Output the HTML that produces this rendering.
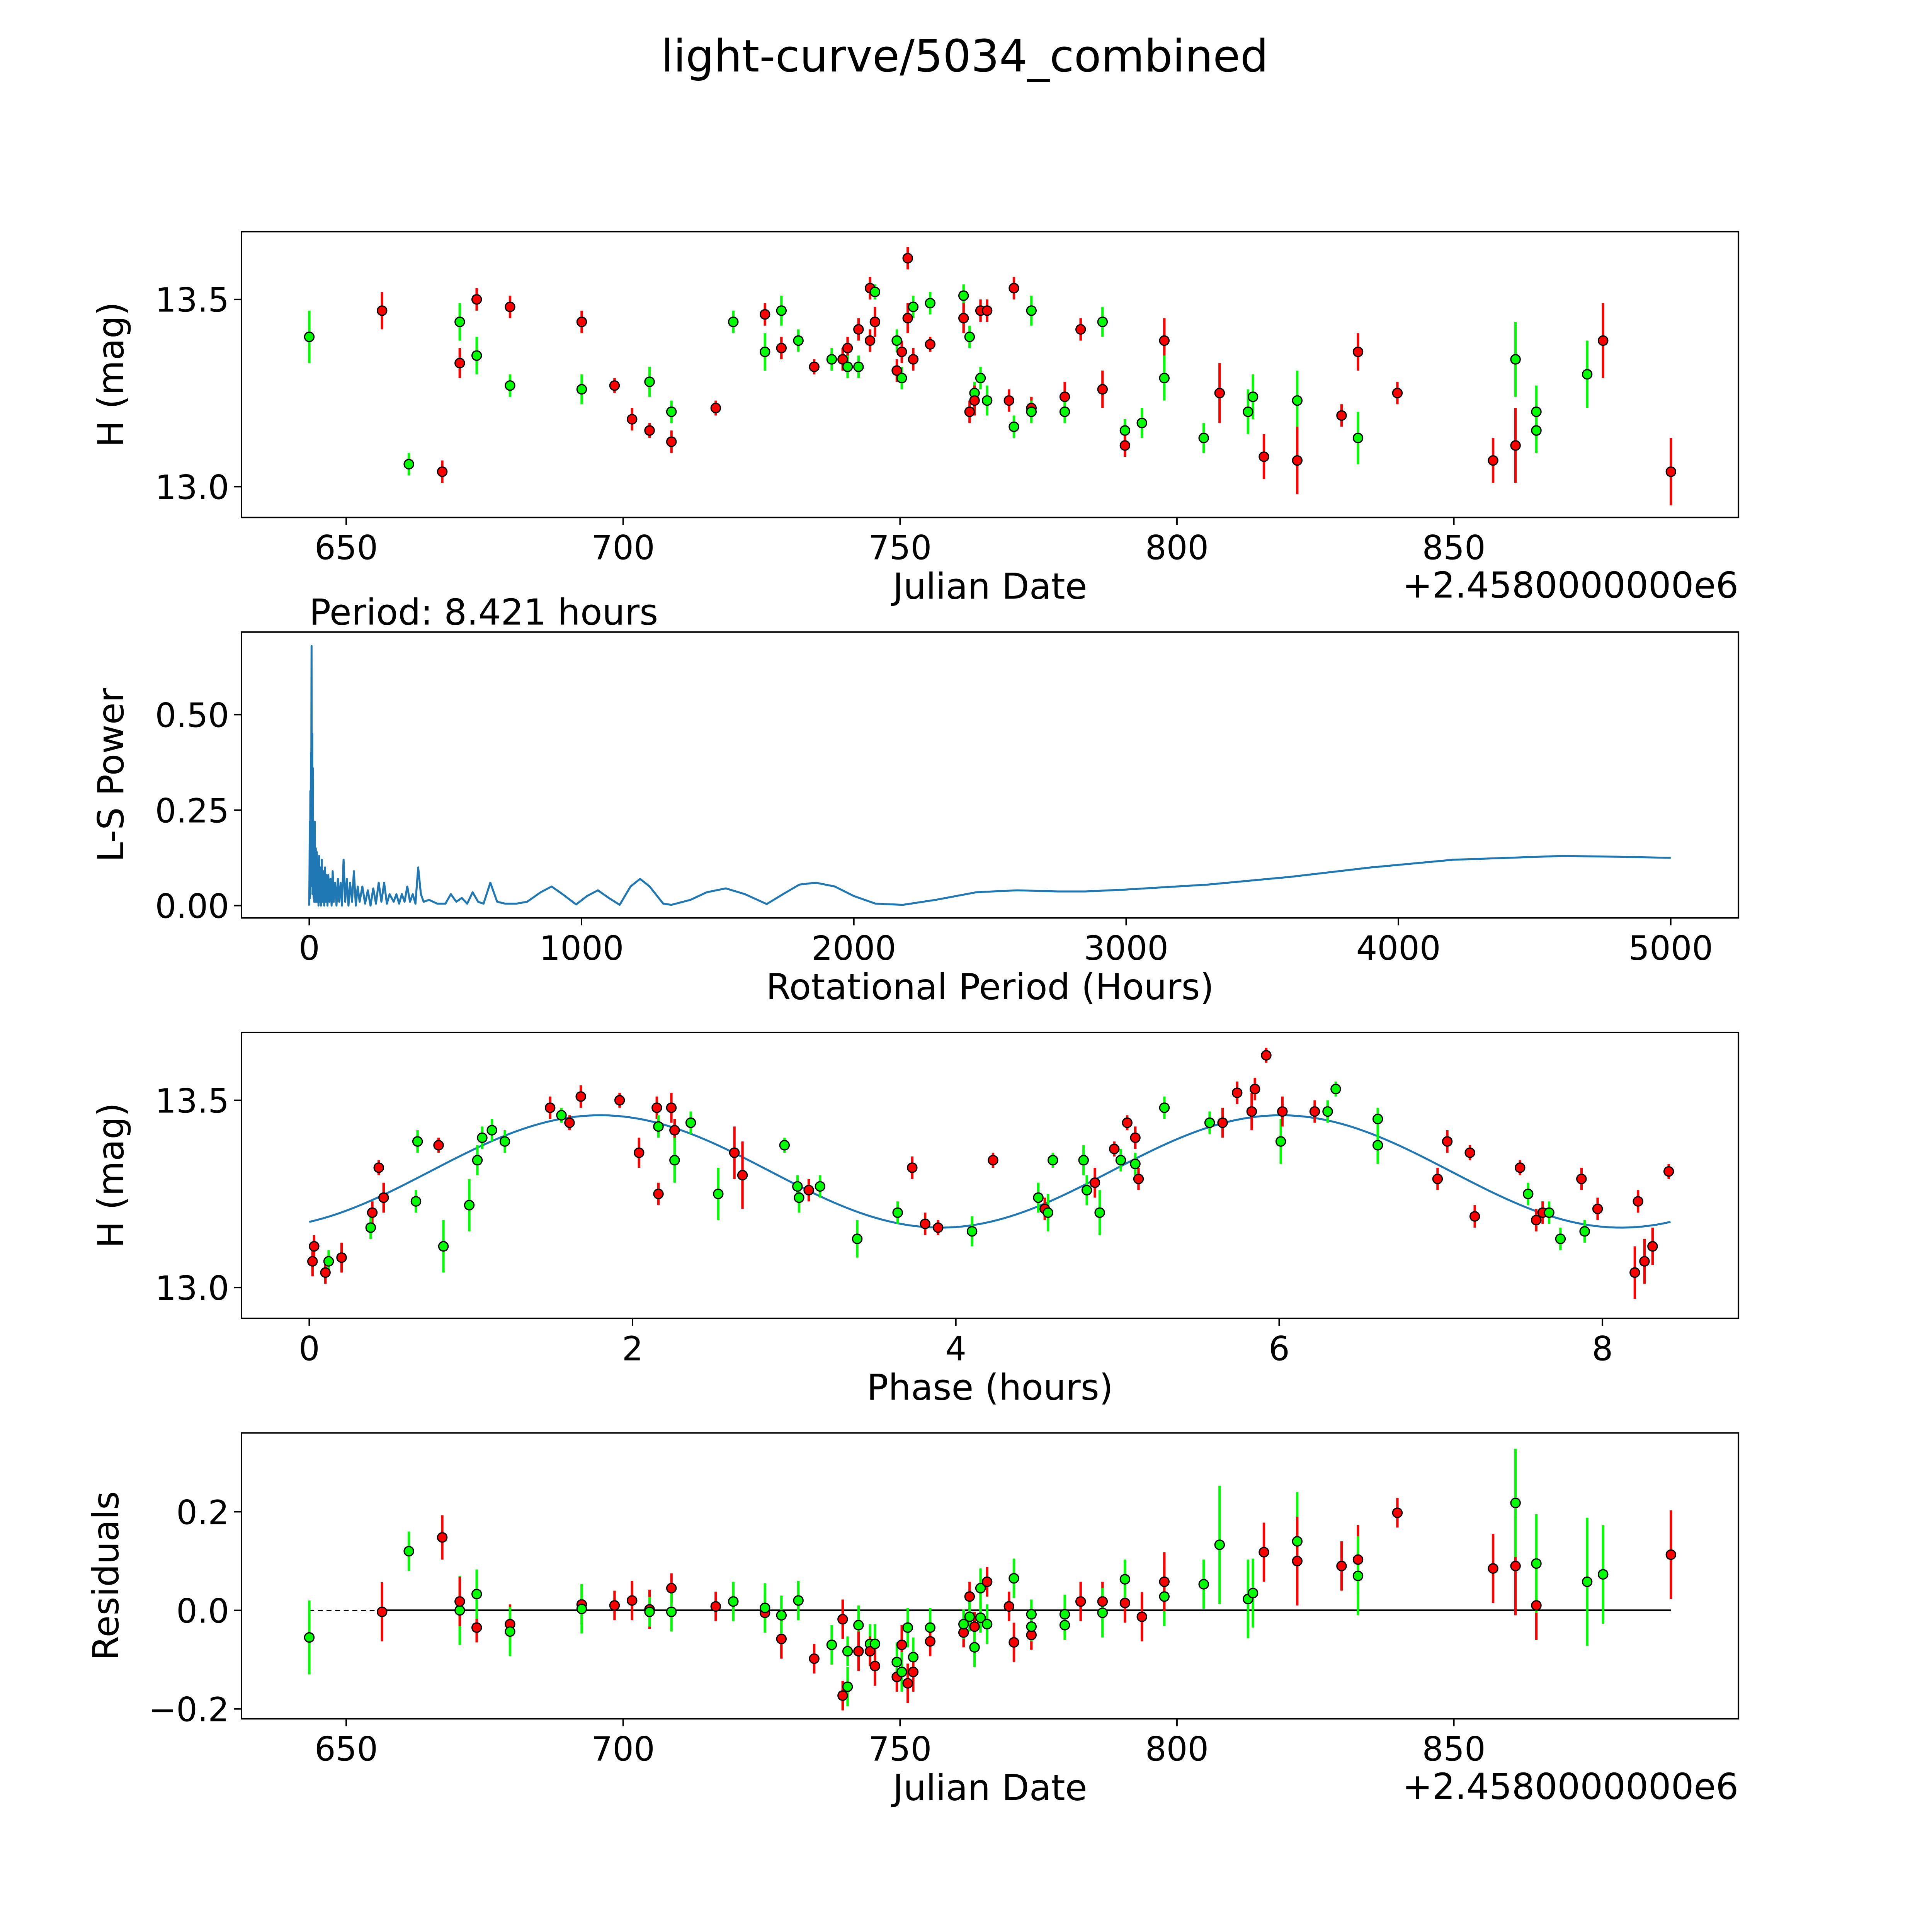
<!DOCTYPE html>
<html><head><meta charset="utf-8"><title>light-curve/5034_combined</title>
<style>html,body{margin:0;padding:0;background:#fff;width:5400px;height:5400px;overflow:hidden}svg{display:block;position:absolute;left:0;top:0;width:5400px;height:5400px}text{font-family:"DejaVu Sans","Liberation Sans",sans-serif;fill:#000}</style>
</head><body>
<svg id="fig" xmlns="http://www.w3.org/2000/svg" width="5400" height="5400" viewBox="0 0 1693.5 1693.5" preserveAspectRatio="xMinYMin meet">
<rect width="1693.5" height="1693.5" fill="#fff"/>
<text x="783" y="58" font-size="36" text-anchor="middle">light-curve/5034_combined</text>
</svg>
<script>
// ---- Panel 1 data: raw light curve ----
const p1Dates=[643.33,656.47,661.31,667.34,670.50,670.50,673.56,673.56,679.58,679.58,692.52,692.52,698.45,701.61,704.77,704.77,708.72,708.72,716.72,719.89,725.61,725.61,728.58,728.58,731.64,734.50,737.66,739.64,740.53,740.53,742.50,742.50,744.58,744.58,745.47,745.47,749.42,749.42,750.31,750.31,751.39,751.39,752.38,752.38,755.44,755.44,761.47,761.47,762.56,762.56,763.45,763.45,764.53,764.53,765.72,765.72,769.67,770.56,770.56,773.72,773.72,773.72,779.74,779.74,782.61,786.56,786.56,790.61,790.61,793.67,797.72,797.72,804.83,807.70,812.83,813.72,815.70,821.72,821.72,829.72,832.69,832.69,839.80,857.08,861.13,861.13,864.89,864.89,874.07,876.94,889.19];
const p1Mags=[13.40,13.47,13.06,13.04,13.44,13.33,13.50,13.35,13.48,13.27,13.44,13.26,13.27,13.18,13.28,13.15,13.20,13.12,13.21,13.44,13.46,13.36,13.37,13.47,13.39,13.32,13.34,13.34,13.37,13.32,13.42,13.32,13.39,13.53,13.52,13.44,13.31,13.39,13.36,13.29,13.61,13.45,13.48,13.34,13.49,13.38,13.51,13.45,13.40,13.20,13.25,13.23,13.29,13.47,13.47,13.23,13.23,13.53,13.16,13.47,13.21,13.20,13.24,13.20,13.42,13.26,13.44,13.15,13.11,13.17,13.39,13.29,13.13,13.25,13.20,13.24,13.08,13.23,13.07,13.19,13.36,13.13,13.25,13.07,13.34,13.11,13.15,13.20,13.30,13.39,13.04];
const p1Errs=[0.07,0.05,0.03,0.03,0.05,0.04,0.03,0.05,0.03,0.03,0.03,0.04,0.02,0.03,0.04,0.02,0.03,0.03,0.02,0.03,0.03,0.05,0.03,0.04,0.03,0.02,0.03,0.03,0.03,0.03,0.03,0.03,0.03,0.03,0.02,0.04,0.03,0.03,0.03,0.03,0.03,0.04,0.03,0.03,0.03,0.02,0.03,0.04,0.03,0.03,0.03,0.04,0.03,0.03,0.03,0.04,0.03,0.03,0.03,0.04,0.03,0.03,0.04,0.03,0.03,0.05,0.04,0.03,0.03,0.04,0.06,0.06,0.04,0.08,0.06,0.06,0.06,0.08,0.09,0.03,0.05,0.07,0.03,0.06,0.10,0.10,0.06,0.07,0.09,0.10,0.09];
const p1Colors="grgrgrrgrgrgrrgrgrrgrgrggrgrrgrgrrgrrgrgrrgrgrgrgrgrgrrgrrggrgrgrrggrgrggrggrgrrrgrrgrgggrr".split("");
// ---- Panel 2 data: periodogram ----
const lsPeriods=[0,1,2,3,4,5,6,7,8,8.4,9,10,11,12,13,14,15,16,17,18,20,22,24,26,28,30,32,34,36,38,40,43,46,49,52,55,58,61,64,67,70,74,78,82,86,90,95,100,105,110,115,120,126,132,138,144,150,157,164,171,178,185,195,205,215,225,235,245,255,265,275,285,295,310,320,330,340,350,360,370,380,390,400,410,420,440,470,500,520,540,560,580,600,620,640,665,690,720,760,800,850,890,930,980,1020,1060,1100,1140,1180,1215,1250,1300,1330,1400,1460,1530,1600,1680,1740,1800,1860,1930,2000,2080,2180,2300,2450,2600,2750,2850,3000,3300,3600,3900,4200,4600,4800,5000];
const lsPowers=[0,0.10,0.22,0.02,0.30,0.05,0.40,0.10,0.55,0.68,0.35,0.12,0.45,0.03,0.36,0.05,0.22,0.02,0.20,0.01,0.22,0.01,0.15,0.01,0.14,0.01,0.12,0.0,0.13,0.01,0.10,0.0,0.12,0.01,0.09,0.0,0.10,0.01,0.08,0.0,0.08,0.01,0.07,0.0,0.09,0.01,0.06,0.0,0.07,0.01,0.06,0.0,0.12,0.01,0.07,0.0,0.06,0.01,0.09,0.0,0.05,0.01,0.05,0.005,0.04,0.0,0.045,0.005,0.06,0.01,0.06,0.005,0.03,0.01,0.03,0.005,0.03,0.01,0.05,0.01,0.03,0.005,0.10,0.03,0.01,0.015,0.005,0.005,0.03,0.01,0.02,0.005,0.035,0.01,0.005,0.06,0.01,0.005,0.005,0.01,0.035,0.05,0.03,0.003,0.025,0.04,0.02,0.002,0.05,0.07,0.05,0.005,0.002,0.015,0.035,0.045,0.03,0.004,0.03,0.055,0.06,0.05,0.025,0.005,0.002,0.015,0.035,0.04,0.037,0.037,0.042,0.055,0.075,0.10,0.12,0.13,0.128,0.125];
// ---- Panel 3 data: phased light curve ----
const phPhases=[0.02,0.03,0.10,0.12,0.20,0.39,0.38,0.43,0.46,0.66,0.67,0.80,0.83,0.99,1.04,1.07,1.13,1.21,1.49,1.56,1.61,1.68,1.92,2.04,2.15,2.16,2.16,2.24,2.26,2.26,2.36,2.53,2.63,2.68,2.94,3.02,3.03,3.09,3.16,3.39,3.64,3.73,3.81,3.89,4.10,4.23,4.51,4.55,4.57,4.60,4.79,4.81,4.86,4.89,4.98,5.02,5.06,5.11,5.11,5.13,5.29,5.57,5.65,5.74,5.83,5.85,5.92,6.01,6.02,6.22,6.30,6.35,6.61,6.61,6.98,7.04,7.18,7.21,7.49,7.54,7.59,7.63,7.67,7.74,7.87,7.89,7.97,8.22,8.20,8.26,8.31,8.41];
const phMags=[13.07,13.11,13.04,13.07,13.08,13.20,13.16,13.32,13.24,13.23,13.39,13.38,13.11,13.22,13.34,13.40,13.42,13.39,13.48,13.46,13.44,13.51,13.50,13.36,13.48,13.25,13.43,13.48,13.42,13.34,13.44,13.25,13.36,13.30,13.38,13.27,13.24,13.26,13.27,13.13,13.20,13.32,13.17,13.16,13.15,13.34,13.24,13.21,13.20,13.34,13.34,13.26,13.28,13.20,13.37,13.34,13.44,13.40,13.33,13.29,13.48,13.44,13.44,13.52,13.47,13.53,13.62,13.39,13.47,13.47,13.47,13.53,13.45,13.38,13.29,13.39,13.36,13.19,13.32,13.25,13.18,13.20,13.20,13.13,13.29,13.15,13.21,13.23,13.04,13.07,13.11,13.31];
const phErrs=[0.04,0.03,0.03,0.03,0.04,0.03,0.03,0.02,0.04,0.03,0.03,0.02,0.07,0.07,0.04,0.03,0.03,0.03,0.03,0.02,0.02,0.03,0.02,0.04,0.03,0.03,0.03,0.04,0.03,0.06,0.03,0.07,0.07,0.09,0.02,0.03,0.04,0.03,0.03,0.05,0.03,0.03,0.03,0.02,0.04,0.02,0.04,0.03,0.05,0.02,0.04,0.04,0.04,0.06,0.02,0.03,0.02,0.03,0.03,0.03,0.03,0.03,0.04,0.03,0.05,0.03,0.02,0.06,0.04,0.03,0.03,0.02,0.03,0.05,0.03,0.03,0.02,0.03,0.02,0.03,0.03,0.03,0.03,0.03,0.03,0.03,0.03,0.03,0.07,0.06,0.05,0.02];
const phColors="rrrgrrgrrggrggggggrgrrrrrrgrrgggrrgggrgggrrrgrgrggggrgrgrrgrggrrrrrgrrggggrrrrrgrrggrgrrrr".split("");
// fit model parameters (two-harmonic sinusoid fitted in the original)
const fitParams=[13.31,0.15,1.8,8.421];
// ---- Panel 4 data: residuals ----
const resDates=[643.33,656.47,661.31,667.34,670.50,670.50,673.56,673.56,679.58,679.58,692.52,692.52,698.45,701.61,704.77,704.77,708.72,708.72,716.72,719.89,725.61,725.61,728.58,728.58,731.64,734.50,737.66,739.64,740.53,739.64,740.53,742.50,742.50,744.58,744.58,745.47,745.47,749.42,749.42,750.31,750.31,751.39,751.39,752.38,752.38,755.44,755.44,761.47,761.47,762.56,762.56,763.45,763.45,764.53,764.53,765.72,765.72,769.67,770.56,770.56,773.72,773.72,773.72,779.74,779.74,782.61,786.56,786.56,790.61,790.61,793.67,797.72,797.72,804.83,807.70,812.83,813.72,815.70,821.72,821.72,829.72,832.69,832.69,839.80,857.08,861.13,861.13,864.89,864.89,874.07,876.94,889.19];
const resValues=[-0.055,-0.003,0.12,0.148,0.0,0.018,-0.035,0.033,-0.028,-0.043,0.012,0.003,0.01,0.02,0.002,-0.003,0.045,-0.003,0.008,0.018,-0.005,0.005,-0.058,-0.01,0.02,-0.098,-0.07,-0.173,-0.155,-0.018,-0.083,-0.03,-0.083,-0.068,-0.083,-0.068,-0.113,-0.135,-0.105,-0.07,-0.125,-0.148,-0.035,-0.095,-0.125,-0.035,-0.063,-0.045,-0.028,0.028,-0.013,-0.033,-0.075,0.045,-0.015,0.058,-0.028,0.008,-0.065,0.065,-0.008,-0.05,-0.033,-0.03,-0.008,0.018,0.018,-0.005,0.015,0.063,-0.013,0.028,0.058,0.053,0.133,0.023,0.035,0.118,0.14,0.10,0.09,0.103,0.07,0.198,0.085,0.09,0.218,0.01,0.095,0.058,0.073,0.113];
const resErrs=[0.075,0.06,0.04,0.045,0.07,0.05,0.03,0.05,0.04,0.05,0.04,0.05,0.03,0.04,0.04,0.03,0.03,0.04,0.03,0.04,0.04,0.05,0.04,0.04,0.04,0.03,0.04,0.03,0.04,0.04,0.03,0.04,0.04,0.04,0.03,0.04,0.04,0.03,0.04,0.04,0.04,0.04,0.04,0.04,0.04,0.04,0.03,0.03,0.03,0.03,0.03,0.03,0.04,0.04,0.03,0.03,0.04,0.03,0.04,0.04,0.03,0.03,0.03,0.03,0.04,0.04,0.04,0.05,0.04,0.04,0.05,0.06,0.06,0.05,0.12,0.08,0.07,0.06,0.10,0.09,0.05,0.07,0.08,0.03,0.07,0.10,0.11,0.07,0.10,0.13,0.10,0.09];
const resColors="grgrgrrgrgrgrrrgrgrgrgrggrgrgrggrgrgrrgrgrggrgrrgrgrgggrgrrggrgggrrgrgrgrggggrgrrrgrrrgrgggr".split("").slice(0,92);

const svg=document.getElementById('fig');
const NS='http://www.w3.org/2000/svg';
function mk(tag,attrs,parent){const e=document.createElementNS(NS,tag);for(const k in attrs)e.setAttribute(k,attrs[k]);(parent||svg).appendChild(e);return e;}
function col(c){return c==='r'?'#ff0000':'#00ff00';}
const TICK_FS=27, LAB_FS=29;

function axes(name,x0,y0,x1,y1,xs,ys,xticks,xlabels,yticks,ylabels,xtitle,ytitle,ytitleX){
  const g=mk('g',{});
  
  
  for(let i=0;i<xticks.length;i++){
    const x=xs(xticks[i]);
    const t=mk('line',{x1:x,x2:x,y1:y1,y2:y1+6,stroke:'#000','stroke-width':1.2},g);
    
    
    const l=mk('text',{x:x,y:y1+34,'font-size':TICK_FS,'text-anchor':'middle'},g);
    
    
    l.textContent=xlabels[i];
  }
  for(let i=0;i<yticks.length;i++){
    const y=ys(yticks[i]);
    const t=mk('line',{x1:x0-6,x2:x0,y1:y,y2:y,stroke:'#000','stroke-width':1.2},g);
    
    
    const l=mk('text',{x:x0-10,y:y+10,'font-size':TICK_FS,'text-anchor':'end'},g);
    
    
    l.textContent=ylabels[i];
  }
  const xt=mk('text',{x:(x0+x1)/2,y:y1+66,'font-size':LAB_FS,'text-anchor':'middle'},g);
  
  
  xt.textContent=xtitle;
  const cy=(y0+y1)/2;
  const yt=mk('text',{x:ytitleX,y:cy,'font-size':LAB_FS,'text-anchor':'middle',transform:'rotate(-90 '+ytitleX+' '+cy+')'},g);
  
  
  yt.textContent=ytitle;
  return g;
}
function frame(x0,y0,x1,y1){
  const r=mk('rect',{x:x0,y:y0,width:x1-x0,height:y1-y0,fill:'none',stroke:'#000','stroke-width':1.2});
  
  
}
function points(xsArr,vals,errs,cols,xs,ys,name){
  const g=mk('g',{});
  
  
  for(let i=0;i<xsArr.length;i++){
    const x=xs(xsArr[i]),e=errs[i]||0.04,c=col(cols[i]||'r');
    const b=mk('line',{x1:x,x2:x,y1:ys(vals[i]-e),y2:ys(vals[i]+e),stroke:c,'stroke-width':2},g);
    
    
  }
  for(let i=0;i<xsArr.length;i++){
    const p=mk('circle',{cx:xs(xsArr[i]),cy:ys(vals[i]),r:3.8,fill:col(cols[i]||'r'),stroke:'#000','stroke-width':1},g);
    
    
  }
}
const dateX=d=>281+(d-650)*4.495;
const dTicks=[650,700,750,800,850];
const dLabels=['650','700','750','800','850'];

// Panel 1
const m1=v=>243-(v-13.5)*304;
axes('light-curve-axes',196,188,1411,420,dateX,m1,dTicks,dLabels,[13.0,13.5],['13.0','13.5'],'Julian Date','H (mag)',100);
points(p1Dates,p1Mags,p1Errs,p1Colors,dateX,m1,'light-curve-points');
frame(196,188,1411,420);
let off=mk('text',{x:1411,y:485,'font-size':LAB_FS,'text-anchor':'end'});


off.textContent='+2.4580000000e6';

// Panel 2
const px=p=>251+p*0.221, py=v=>735-v*310;
axes('periodogram-axes',196,513,1411,745,px,py,[0,1000,2000,3000,4000,5000],['0','1000','2000','3000','4000','5000'],[0,0.25,0.5],['0.00','0.25','0.50'],'Rotational Period (Hours)','L-S Power',100);
let d='';
for(let i=0;i<lsPeriods.length;i++)d+=(i?'L':'M')+px(lsPeriods[i]).toFixed(2)+' '+py(lsPowers[i]).toFixed(2);
const ls=mk('path',{d:d,fill:'none',stroke:'#1f77b4','stroke-width':1.6,'stroke-linejoin':'round'});


frame(196,513,1411,745);
const pt=mk('text',{x:251,y:507,'font-size':LAB_FS});


pt.textContent='Period: 8.421 hours';

// Panel 3
const phx=p=>251+p*131.2, m3=v=>893-(v-13.5)*304;
axes('phase-axes',196,838,1411,1070,phx,m3,[0,2,4,6,8],['0','2','4','6','8'],[13.0,13.5],['13.0','13.5'],'Phase (hours)','H (mag)',100);
let fd='';
for(let i=0;i<=200;i++){const p=fitParams[3]*i/200;const v=fitParams[0]+fitParams[1]*Math.cos(4*Math.PI*(p-fitParams[2])/fitParams[3]);fd+=(i?'L':'M')+phx(p).toFixed(2)+' '+m3(v).toFixed(2);}
const fit=mk('path',{d:fd,fill:'none',stroke:'#1f77b4','stroke-width':1.6});


points(phPhases,phMags,phErrs,phColors,phx,m3,'phase-points');
frame(196,838,1411,1070);

// Panel 4
const ry=v=>1307-v*400;
axes('residuals-axes',196,1163,1411,1395,dateX,ry,dTicks,dLabels,[-0.2,0,0.2],['\u22120.2','0.0','0.2'],'Julian Date','Residuals',96);
const zl1=mk('line',{x1:dateX(643.33),x2:dateX(656),y1:ry(0),y2:ry(0),stroke:'#000','stroke-width':1,'stroke-dasharray':'4 3'});


const zl2=mk('line',{x1:dateX(656),x2:dateX(889.19),y1:ry(0),y2:ry(0),stroke:'#000','stroke-width':1.5});


points(resDates,resValues,resErrs,resColors,dateX,ry,'residual-points');
frame(196,1163,1411,1395);
off=mk('text',{x:1411,y:1460,'font-size':LAB_FS,'text-anchor':'end'});


off.textContent='+2.4580000000e6';
</script>
</body></html>
